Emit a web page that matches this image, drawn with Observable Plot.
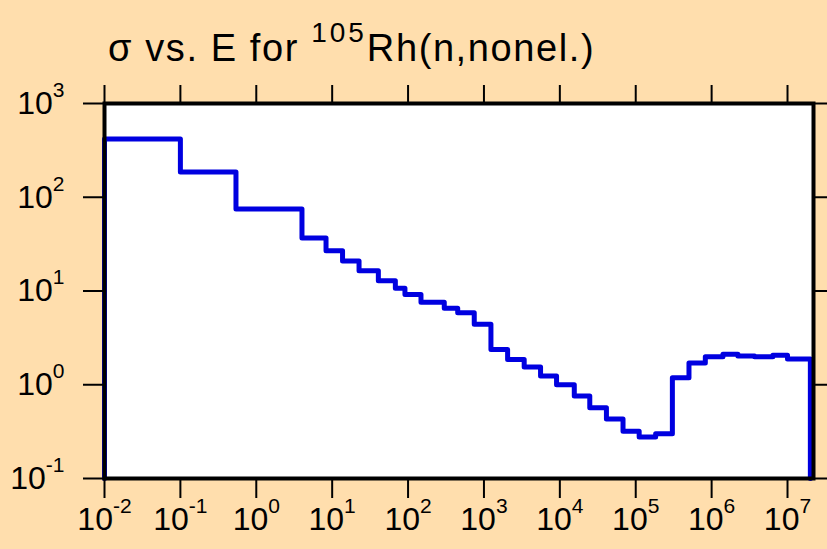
<!DOCTYPE html>
<html>
<head>
<meta charset="utf-8">
<script src="https://cdn.jsdelivr.net/npm/d3@7"></script>
<script src="https://cdn.jsdelivr.net/npm/@observablehq/plot@0.6"></script>
<style>
  html, body { margin: 0; padding: 0; background: #FFDEAD; }
  #wrap { width: 827px; height: 549px; background: #FFDEAD; overflow: hidden; }
  #title { display: block; }
  #chart svg { display: block; }
</style>
</head>
<body>
<div id="wrap">
  <svg id="title" width="827" height="70" xmlns="http://www.w3.org/2000/svg">
    <text x="108" y="61" font-family="'Liberation Sans', Arial, sans-serif" font-size="38" letter-spacing="1.6" fill="#000">σ vs. E for <tspan font-size="28" letter-spacing="3" dy="-19">105</tspan><tspan dy="19" letter-spacing="1.6">Rh(n,nonel.)</tspan></text>
  </svg>
  <div id="chart"></div>
</div>
<script>
// Bin edges (eV) of the step function
const energyEdges = [0.01, 0.1, 0.54, 4.0, 8.3, 13.7, 22.6, 40.6, 68, 91, 148, 300, 451, 745, 1236,
  2050, 3390, 5570, 9050, 15500, 24800, 41100, 68000, 1.11e5, 1.83e5, 3.04e5, 5.03e5, 8.26e5,
  1.41e6, 2.22e6, 3.68e6, 6.41e6, 1.0e7, 2.0e7];
// Cross section (b) in each bin
const sigmaValues = [419, 186, 74.8, 36.7, 26.8, 20.9, 16.4, 12.9, 10.7, 9.2, 7.57, 6.53, 5.87, 4.41,
  2.38, 1.86, 1.55, 1.24, 1.0, 0.76, 0.57, 0.43, 0.32, 0.277, 0.30, 1.19, 1.71, 1.99, 2.12, 2.02,
  1.99, 2.07, 1.88];
const xTickExponents = [-2, -1, 0, 1, 2, 3, 4, 5, 6, 7];
const yTickExponents = [-1, 0, 1, 2, 3];
const yFloor = 0.1;

const last = energyEdges.length - 1;
const points = [{E: energyEdges[0], s: yFloor}];
sigmaValues.forEach((s, i) => points.push({E: energyEdges[i], s}));
points.push({E: energyEdges[last], s: sigmaValues[sigmaValues.length - 1]});
points.push({E: energyEdges[last], s: yFloor});

const xTicks = xTickExponents.map(e => Math.pow(10, e));
const yTicks = yTickExponents.map(e => Math.pow(10, e));
const fmt = d => `10^${Math.round(Math.log10(d))}`;
const blank = () => "";

const chart = Plot.plot({
  width: 827,
  height: 479,
  marginTop: 33,
  marginLeft: 104,
  marginRight: 14,
  marginBottom: 71,
  style: {background: "transparent", fontFamily: "'Liberation Sans', Arial, sans-serif", color: "#000", overflow: "visible"},
  x: {type: "log", domain: [0.01, 2.2e7]},
  y: {type: "log", domain: [0.1, 1000]},
  marks: [
    Plot.frame({fill: "white", stroke: null}),
    Plot.line(points, {x: "E", y: "s", curve: "step-after", stroke: "#0000e0", strokeWidth: 5}),
    Plot.frame({stroke: "#000", strokeWidth: 4}),
    Plot.axisX({anchor: "bottom", ticks: xTicks, tickFormat: fmt, tickSize: 20, tickPadding: 9,
      fontSize: 32, label: null, stroke: "#000", strokeWidth: 2}),
    Plot.axisX({anchor: "top", ticks: xTicks, tickFormat: blank, tickSize: 19, label: null,
      stroke: "#000", strokeWidth: 2}),
    Plot.axisY({anchor: "left", ticks: yTicks, tickFormat: fmt, tickSize: 21, tickPadding: 19,
      fontSize: 32, label: null, stroke: "#000", strokeWidth: 2}),
    Plot.axisY({anchor: "right", ticks: yTicks, tickFormat: blank, tickSize: 17, label: null,
      stroke: "#000", strokeWidth: 2})
  ]
});

// Render exponents as superscripts
const NS = "http://www.w3.org/2000/svg";
chart.querySelectorAll("text").forEach(t => {
  const m = /^10\^(-?\d+)$/.exec(t.textContent);
  if (!m) return;
  t.textContent = "10";
  const sup = document.createElementNS(NS, "tspan");
  sup.setAttribute("font-size", "21");
  sup.setAttribute("dy", "-17");
  sup.textContent = m[1];
  t.appendChild(sup);
});

document.getElementById("chart").appendChild(chart);
</script>
</body>
</html>
